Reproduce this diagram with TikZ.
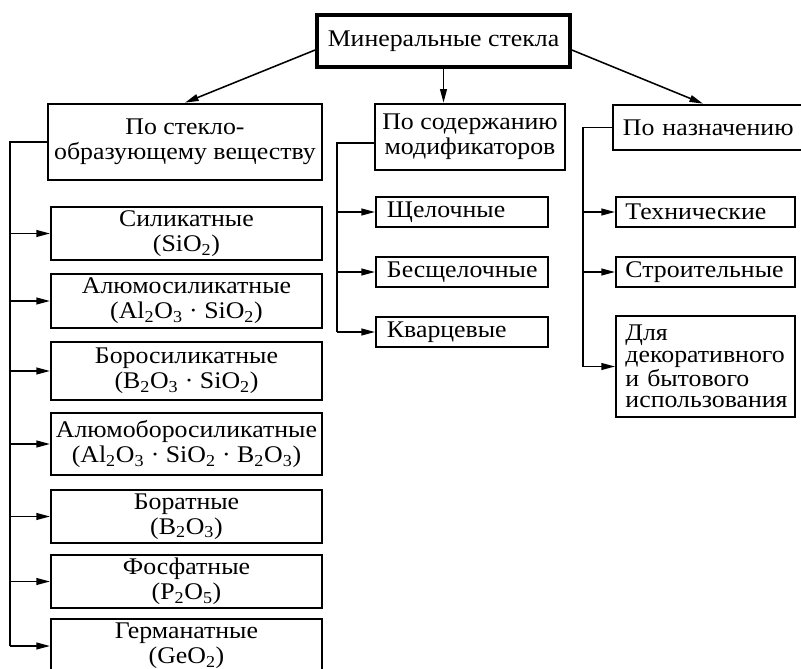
\documentclass[tikz,border=0pt]{standalone}
\usepackage{fontspec}
\setmainfont{Liberation Serif}[FakeStretch=1.08]
\usetikzlibrary{arrows.meta,positioning}

\begin{document}
\begin{tikzpicture}[x=0.025cm, y=-0.025cm,
    box/.style={draw, line width=1.4pt, inner sep=0pt, align=center,
      font=\fontsize{17}{17.8}\selectfont},
    head/.style={box, line width=1.9pt},
    leftbox/.style={box, minimum width=6.775cm},
    midbox/.style={box, minimum width=4.3cm, minimum height=0.75cm,
      text width=3.75cm, align=left},
    rightbox/.style={box, minimum width=4.475cm, minimum height=0.75cm,
      text width=4.0cm, align=left},
    bus/.style={line width=1pt},
    link/.style={line width=1.1pt, -{Triangle[length=0.34cm, width=0.17cm]}}]
    \clip (0,0) rectangle (801,669);
    % root and groups
    \node[box, line width=2.6pt, minimum width=6.325cm, minimum height=1.3cm](glass)at(443.5,41){Минеральные стекла};
    \node[head, minimum width=6.85cm, minimum height=1.9cm](former)at(185,142){По стекло-\\образующему веществу};
    \node[head, minimum width=4.75cm, minimum height=1.65cm](modif)at(470,137){По содержанию\\модификаторов};
    \node[head, minimum width=4.8cm, minimum height=1.125cm, text width=4.3cm, align=left](purpose)at(709,127.5){По назначению};
    \draw[link]([yshift=-0.225cm]glass.west)--(former.north);
    \draw[link](glass.south)--(glass.south |- modif.north);
    \draw[link]([yshift=-0.225cm]glass.east)--([xshift=-0.15cm]purpose.north);
    % glass former
    \node[leftbox, minimum height=1.325cm](sil)at(186.5,233.5){Силикатные\\(SiO\textsubscript{2})};
    \node[leftbox, minimum height=1.35cm](alsil)at(186.5,301){Алюмосиликатные\\(Al\textsubscript{2}O\textsubscript{3} · SiO\textsubscript{2})};
    \node[leftbox, minimum height=1.45cm](bsil)at(186.5,371){Боросиликатные\\(B\textsubscript{2}O\textsubscript{3} · SiO\textsubscript{2})};
    \node[leftbox, minimum height=1.55cm](albsil)at(186.5,444){Алюмоборосиликатные\\(Al\textsubscript{2}O\textsubscript{3} · SiO\textsubscript{2} · B\textsubscript{2}O\textsubscript{3})};
    \node[leftbox, minimum height=1.325cm](bor)at(186.5,516.5){Боратные\\(B\textsubscript{2}O\textsubscript{3})};
    \node[leftbox, minimum height=1.325cm](phos)at(186.5,581.5){Фосфатные\\(P\textsubscript{2}O\textsubscript{5})};
    \node[leftbox, minimum height=1.35cm](germ)at(186.5,646){Германатные\\(GeO\textsubscript{2})};
    \coordinate(lbus)at(10,0);
    \draw[bus](former.west)--(lbus |- former.west)--(lbus |- germ.west);
    \foreach \n in {sil,alsil,bsil,albsil,bor,phos,germ}
      \draw[link](lbus |- \n.west)--(\n.west);
    % modifiers
    \node[midbox](alk)at(462,212){Щелочные};
    \node[midbox](nalk)at(462,272){Бесщелочные};
    \node[midbox](quartz)at(462,332){Кварцевые};
    \coordinate(mbus)at(337,0);
    \coordinate(mfrom)at([yshift=-0.15cm]modif.west);
    \draw[bus](mfrom)--(mbus |- mfrom)--(mbus |- quartz.west);
    \foreach \n in {alk,nalk,quartz}
      \draw[link](mbus |- \n.west)--(\n.west);
    % purpose
    \node[rightbox](tech)at(705.5,212){Технические};
    \node[rightbox](build)at(705.5,272){Строительные};
    \node[rightbox, minimum height=2.525cm, font=\fontsize{17}{15.4}\selectfont](decor)at(705.5,366.5){Для\\декоративного\\и бытового\\использования};
    \coordinate(rbus)at(583,0);
    \draw[bus](purpose.west)--(rbus |- purpose.west)--(rbus |- decor.west);
    \foreach \n in {tech,build,decor}
      \draw[link](rbus |- \n.west)--(\n.west);
\end{tikzpicture}
\end{document}
